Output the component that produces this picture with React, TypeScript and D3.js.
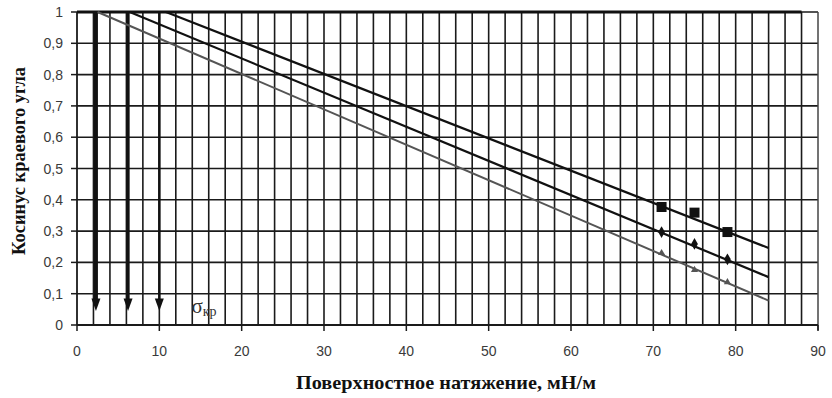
import React from 'react';
import * as d3 from 'd3';

// x where each line leaves cos = 1, and where it ends
const lineStarts = [10.8, 6.4, 2.5];
const lineEndX = 84;
const lineEndY = [0.246, 0.153, 0.078];
const lineColors = ['#111', '#111', '#555'];

// measured points
const pointX = [71, 75, 79];
const squares = [0.377, 0.359, 0.297];
const diamonds = [0.297, 0.259, 0.21];
const triangles = [0.23, 0.176, 0.137];

// critical-tension arrows
const arrowX = [2.3, 6.2, 10];
const arrowWidth = [4, 3.2, 2.5];

const xTicks = [0, 10, 20, 30, 40, 50, 60, 70, 80, 90];
const yTicks = [0, 0.1, 0.2, 0.3, 0.4, 0.5, 0.6, 0.7, 0.8, 0.9, 1];
const yLabels = ['0', '0,1', '0,2', '0,3', '0,4', '0,5', '0,6', '0,7', '0,8', '0,9', '1'];

const App = () => {
    const W = 832, H = 398;
    const x = d3.scaleLinear().domain([0, 90]).range([77, 818]);
    const y = d3.scaleLinear().domain([0, 1]).range([325, 12]);
    const gridX = d3.range(2, 90, 2);
    const line = d3.line<[number, number]>().x(d => x(d[0])).y(d => y(d[1]));
    const tri = d3.symbol().type(d3.symbolTriangle).size(22)();
    const dia = d3.symbol().type(d3.symbolDiamond).size(40)();
    const serif = "'Liberation Serif', 'Times New Roman', serif";

    return (
        <svg width={W} height={H} style={{ position: 'absolute', left: 0, top: 0 }} fontFamily="Arial, 'Liberation Sans', sans-serif">
            <rect width={W} height={H} fill="white" />
            {/* grid */}
            {gridX.map(v => <line key={'gx' + v} x1={x(v)} x2={x(v)} y1={y(1)} y2={y(0)} stroke="#1a1a1a" strokeWidth={1.6} />)}
            {yTicks.map(v => <line key={'gy' + v} x1={x(0)} x2={x(90)} y1={y(v)} y2={y(v)} stroke="#1a1a1a" strokeWidth={1.6} />)}
            <line x1={x(90)} x2={x(90)} y1={y(1)} y2={y(0) + 5} stroke="#444" strokeWidth={1.5} />
            <line x1={x(0)} x2={x(0)} y1={y(1)} y2={y(0)} stroke="#1a1a1a" strokeWidth={1.8} />
            <line x1={x(0)} x2={x(90)} y1={y(0)} y2={y(0)} stroke="#1a1a1a" strokeWidth={2} />
            {/* ticks */}
            {yTicks.map(v => <line key={'ty' + v} x1={x(0) - 6} x2={x(0)} y1={y(v)} y2={y(v)} stroke="#1a1a1a" strokeWidth={1.5} />)}
            {xTicks.map(v => <line key={'tx' + v} x1={x(v)} x2={x(v)} y1={y(0)} y2={y(0) + 6} stroke="#1a1a1a" strokeWidth={1.5} />)}
            {yTicks.map((v, i) => <text key={'ly' + v} x={63} y={y(v) + 5} textAnchor="end" fontSize={14} fill="#3a3a3a">{yLabels[i]}</text>)}
            {xTicks.map(v => <text key={'lx' + v} x={x(v)} y={356} textAnchor="middle" fontSize={14} fill="#3a3a3a">{v}</text>)}
            {/* cos = 1 */}
            <line x1={x(0)} x2={x(88)} y1={y(1)} y2={y(1)} stroke="#111" strokeWidth={3} />
            {/* arrows */}
            {arrowX.map((v, i) => (
                <g key={'a' + v}>
                    <line x1={x(v)} x2={x(v)} y1={y(1)} y2={y(0.07)} stroke="#111" strokeWidth={arrowWidth[i]} />
                    <path d={`M${x(v) - 4.5},${y(0.085)} L${x(v) + 4.5},${y(0.085)} L${x(v)},${y(0.045)} Z`} fill="#111" />
                </g>
            ))}
            {/* lines */}
            {lineStarts.map((s, i) => (
                <path key={'l' + i} d={line([[s, 1], [lineEndX, lineEndY[i]]]) || ''} fill="none" stroke={lineColors[i]} strokeWidth={i === 2 ? 2 : 2.2} />
            ))}
            {/* markers */}
            {pointX.map((v, i) => <rect key={'s' + v} x={x(v) - 5} y={y(squares[i]) - 5} width={10} height={10} fill="#111" />)}
            {pointX.map((v, i) => <path key={'d' + v} d={dia || ''} transform={`translate(${x(v)},${y(diamonds[i])})`} fill="#111" />)}
            {pointX.map((v, i) => <path key={'t' + v} d={tri || ''} transform={`translate(${x(v)},${y(triangles[i])})`} fill="#555" />)}
            {/* sigma label */}
            <text x={x(13.9)} y={313} fontFamily={serif} fontSize={21} fill="#333">σ<tspan fontSize={14} dy={3}>кр</tspan></text>
            {/* axis titles */}
            <text x={446} y={389} textAnchor="middle" fontFamily={serif} fontWeight="bold" fontSize={19} textLength={300} lengthAdjust="spacingAndGlyphs" fill="#111">Поверхностное натяжение, мН/м</text>
            <text transform={`translate(25,161) rotate(-90)`} textAnchor="middle" fontFamily={serif} fontWeight="bold" fontSize={18} textLength={188} lengthAdjust="spacingAndGlyphs" fill="#111">Косинус краевого угла</text>
        </svg>
    );
};

export default App;
